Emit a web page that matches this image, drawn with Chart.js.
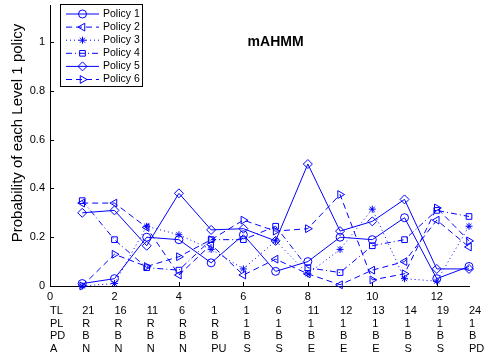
<!DOCTYPE html>
<html>
<head>
<meta charset="utf-8">
<script src="https://cdn.jsdelivr.net/npm/chart.js@4.4.1/dist/chart.umd.min.js"></script>
<style>
  html, body { margin: 0; padding: 0; background: #fff; }
</style>
</head>
<body>
<canvas id="chart" width="485" height="355"></canvas>
<script>
// stages along the x axis
const stages = [1, 2, 3, 4, 5, 6, 7, 8, 9, 10, 11, 12, 13];

// probability of each Level 1 policy
const policy1 = [0.01, 0.03, 0.20, 0.19, 0.095, 0.21, 0.06, 0.10, 0.20, 0.19, 0.28, 0.03, 0.08];
const policy2 = [0.34, 0.34, 0.24, 0.045, 0.17, 0.045, 0.11, 0.05, 0.005, 0.065, 0.10, 0.27, 0.16];
const policy3 = [0.00, 0.01, 0.245, 0.21, 0.15, 0.07, 0.185, 0.05, 0.15, 0.315, 0.03, 0.02, 0.245];
const policy4 = [0.35, 0.19, 0.075, 0.065, 0.19, 0.19, 0.245, 0.075, 0.055, 0.165, 0.19, 0.31, 0.285];
const policy5 = [0.30, 0.31, 0.165, 0.38, 0.23, 0.235, 0.185, 0.50, 0.225, 0.265, 0.355, 0.07, 0.07];
const policy6 = [0.00, 0.13, 0.08, 0.12, 0.19, 0.27, 0.225, 0.235, 0.375, 0.025, 0.05, 0.32, 0.185];

// annotation rows under the x axis
const rowNames = ['TL', 'PL', 'PD', 'A'];
const tlRow = ['21', '16', '11', '6', '1', '1', '6', '11', '12', '13', '14', '19', '24'];
const plRow = ['R', 'R', 'R', 'R', 'R', '1', '1', '1', '1', '1', '1', '1', '1'];
const pdRow = ['B', 'B', 'B', 'B', 'B', 'B', 'B', 'B', 'B', 'B', 'B', 'B', 'B'];
const aRow = ['N', 'N', 'N', 'N', 'PU', 'S', 'S', 'E', 'E', 'E', 'S', 'S', 'PD'];

const BLUE = '#0000ff';
const FONT = '"Liberation Sans", Arial, Helvetica, sans-serif';

const toPoints = vals => vals.map((v, i) => ({ x: stages[i], y: v }));

const makeSet = (label, vals, style, dash, radius, rotation) => ({
    label: label,
    data: toPoints(vals),
    borderColor: BLUE,
    backgroundColor: 'rgba(0,0,0,0)',
    borderWidth: 1,
    borderDash: dash,
    pointStyle: style,
    pointRotation: rotation || 0,
    pointRadius: radius,
    pointHoverRadius: radius,
    pointBorderColor: BLUE,
    pointBackgroundColor: 'rgba(0,0,0,0)',
    pointBorderWidth: 1,
    tension: 0,
    fill: false,
    clip: false
});

const datasets = [
    makeSet('Policy 1', policy1, 'circle', [], 4),
    makeSet('Policy 2', policy2, 'triangle', [6, 4], 4.5, -90),
    makeSet('Policy 3', policy3, 'star', [1, 3], 3.5),
    makeSet('Policy 4', policy4, 'rect', [6, 3, 1, 3], 4),
    makeSet('Policy 5', policy5, 'rectRot', [], 4.5),
    makeSet('Policy 6', policy6, 'triangle', [6, 4], 4.5, 90)
];

// ticks, text and the boxed legend, MATLAB style
const decor = {
    id: 'decor',
    beforeDatasetsDraw(chart) {
        const { ctx, chartArea, scales: { x, y } } = chart;
        ctx.save();
        ctx.strokeStyle = '#000';
        ctx.lineWidth = 1;
        ctx.setLineDash([]);
        // inward tick marks
        x.ticks.forEach(t => {
            const px = Math.round(x.getPixelForValue(t.value)) + 0.5;
            ctx.beginPath();
            ctx.moveTo(px, chartArea.bottom);
            ctx.lineTo(px, chartArea.bottom - 4);
            ctx.stroke();
        });
        y.ticks.forEach(t => {
            const py = Math.round(y.getPixelForValue(t.value)) + 0.5;
            ctx.beginPath();
            ctx.moveTo(chartArea.left, py);
            ctx.lineTo(chartArea.left + 4, py);
            ctx.stroke();
        });
        ctx.restore();
    },
    afterDraw(chart) {
        const { ctx, chartArea, scales: { x, y } } = chart;
        ctx.save();
        ctx.strokeStyle = '#000';
        ctx.lineWidth = 1;
        ctx.setLineDash([]);

        // title inside the axes
        ctx.fillStyle = '#000';
        ctx.font = 'bold 14px ' + FONT;
        ctx.textAlign = 'center';
        ctx.textBaseline = 'middle';
        ctx.fillText('mAHMM', x.getPixelForValue(7), y.getPixelForValue(1));

        // y axis label
        ctx.save();
        ctx.translate(18, 133);
        ctx.rotate(-Math.PI / 2);
        ctx.font = '15px ' + FONT;
        ctx.fillText('Probability of each Level 1 policy', 0, 0);
        ctx.restore();

        // table of stage descriptors
        ctx.font = '11px ' + FONT;
        ctx.textAlign = 'left';
        const rows = [tlRow, plRow, pdRow, aRow];
        rows.forEach((row, r) => {
            const py = chartArea.bottom + 25 + r * 12.5;
            ctx.fillText(rowNames[r], x.getPixelForValue(0), py);
            row.forEach((txt, i) => {
                ctx.fillText(txt, x.getPixelForValue(stages[i]), py);
            });
        });

        // legend box
        const bx = 60.5, by = 4.5, bw = 82, bh = 82;
        ctx.fillStyle = '#fff';
        ctx.fillRect(bx, by, bw, bh);
        ctx.strokeRect(bx, by, bw, bh);
        ctx.font = '10.5px ' + FONT;
        chart.data.datasets.forEach((ds, i) => {
            const ly = 14 + i * 13.1;
            ctx.strokeStyle = BLUE;
            ctx.setLineDash(ds.borderDash);
            ctx.beginPath();
            ctx.moveTo(66, ly);
            ctx.lineTo(99, ly);
            ctx.stroke();
            ctx.setLineDash([]);
            ctx.fillStyle = 'rgba(0,0,0,0)';
            Chart.helpers.drawPoint(ctx, {
                pointStyle: ds.pointStyle,
                rotation: ds.pointRotation,
                radius: ds.pointRadius,
                borderWidth: 1
            }, 82.5, ly);
            ctx.fillStyle = '#000';
            ctx.fillText(ds.label, 103, ly);
        });
        ctx.restore();
    }
};

new Chart(document.getElementById('chart').getContext('2d'), {
    type: 'line',
    data: { datasets: datasets },
    options: {
        responsive: false,
        animation: false,
        events: [],
        layout: { padding: { left: 0, right: 16, top: 0, bottom: 0 } },
        plugins: { legend: { display: false }, title: { display: false }, tooltip: { enabled: false } },
        scales: {
            x: {
                type: 'linear',
                min: 0,
                max: 13,
                border: { display: true, color: '#000', width: 1 },
                grid: { display: true, drawOnChartArea: false, drawTicks: false },
                ticks: { stepSize: 2, includeBounds: false, padding: 4, color: '#000', font: { family: FONT, size: 11 }, maxRotation: 0 },
                afterFit(scale) { scale.height = 69; scale.paddingLeft = 0; scale.paddingRight = 0; }
            },
            y: {
                min: 0,
                max: 1.15,
                border: { display: true, color: '#000', width: 1 },
                grid: { display: true, drawOnChartArea: false, drawTicks: false },
                ticks: {
                    stepSize: 0.2,
                    includeBounds: false,
                    padding: 5,
                    color: '#000',
                    font: { family: FONT, size: 11 },
                    callback: v => String(Number(v.toFixed(2)))
                },
                afterFit(scale) { scale.width = 50; scale.paddingTop = 0; scale.paddingBottom = 0; }
            }
        }
    },
    plugins: [decor]
});
</script>
</body>
</html>
